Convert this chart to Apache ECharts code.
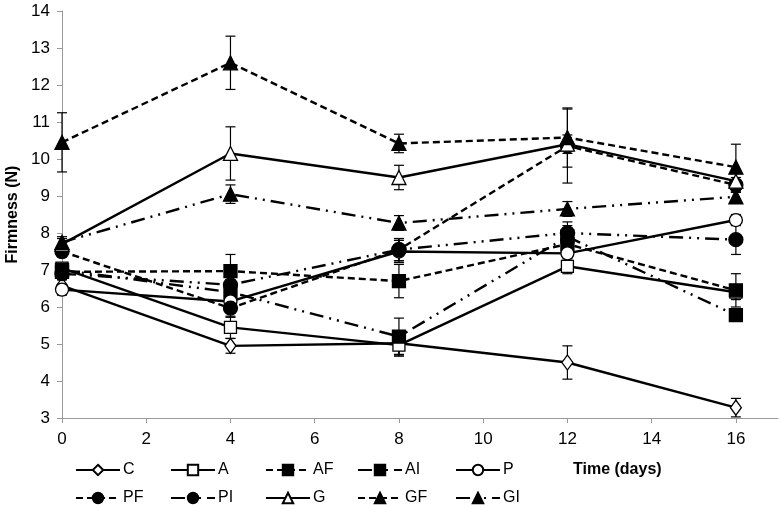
<!DOCTYPE html>
<html>
<head>
<meta charset="utf-8">
<script src="https://cdn.jsdelivr.net/npm/echarts@6/dist/echarts.min.js"></script>
<style>html,body{margin:0;padding:0;background:#fff}#c{width:780px;height:505px}</style>
</head>
<body>
<div id="c"></div>
<script>
const days = [0, 4, 8, 12, 16];
const xTicks = [0, 2, 4, 6, 8, 10, 12, 14, 16];
const seriesNames = ['C', 'A', 'AF', 'AI', 'P', 'PF', 'PI', 'G', 'GF', 'GI'];

const C  = [6.58, 4.95, 5.02, 4.50, 3.28];
const A  = [7.05, 5.45, 4.97, 7.10, 6.40];
const AF = [6.95, 6.97, 6.70, 7.70, 6.45];
const AI = [7.00, 6.40, 5.20, 7.90, 5.78];
const P  = [6.47, 6.15, 7.50, 7.45, 8.35];
const PF = [7.50, 5.97, 7.55, 10.35, 9.30];
const PI = [6.90, 6.60, 7.55, 8.00, 7.82];
const G  = [7.70, 10.15, 9.50, 10.40, 9.40];
const GF = [10.45, 12.60, 10.42, 10.58, 9.78];
const GI = [7.75, 9.05, 8.27, 8.65, 8.98];

const C_err  = [0.15, 0.20, 0.30, 0.45, 0.25];
const A_err  = [0.15, 0.30, 0.30, 0.20, 0.20];
const AF_err = [0.15, 0.45, 0.45, 0.30, 0.45];
const AI_err = [0.15, 0.30, 0.50, 0.30, 0.15];
const P_err  = [0.15, 0.20, 0.30, 0.30, 0.15];
const PF_err = [0.15, 0.25, 0.30, 1.00, 0.20];
const PI_err = [0.15, 0.20, 0.30, 0.30, 0.40];
const G_err  = [0.15, 0.72, 0.33, 0.25, 0.30];
const GF_err = [0.80, 0.72, 0.25, 0.80, 0.62];
const GI_err = [0.15, 0.25, 0.20, 0.20, 0.15];

const values = [C, A, AF, AI, P, PF, PI, G, GF, GI];
const errors = [C_err, A_err, AF_err, AI_err, P_err, PF_err, PI_err, G_err, GF_err, GI_err];

const DASH = [7, 4];
const DASHDOT = [14, 6, 2, 6, 2, 6];
const styles = [
  {symbol: 'diamond', size: [11, 15], fill: '#fff', dash: 'solid'},
  {symbol: 'rect', size: 12, fill: '#fff', dash: 'solid'},
  {symbol: 'rect', size: 13, fill: '#000', dash: DASH},
  {symbol: 'rect', size: 13, fill: '#000', dash: DASHDOT},
  {symbol: 'circle', size: 13, fill: '#fff', dash: 'solid'},
  {symbol: 'circle', size: 14, fill: '#000', dash: DASH},
  {symbol: 'circle', size: 14, fill: '#000', dash: DASHDOT},
  {symbol: 'triangle', size: 14, fill: '#fff', dash: 'solid'},
  {symbol: 'triangle', size: 14, fill: '#000', dash: DASH},
  {symbol: 'triangle', size: 14, fill: '#000', dash: DASHDOT}
];

const FONT = 'Liberation Sans, Arial, sans-serif';

const series = [];
const errData = [];
values.forEach((vals, i) => {
  vals.forEach((v, j) => {
    errData.push([days[j], v - errors[i][j], v + errors[i][j]]);
  });
});
series.push({
  type: 'custom',
  name: 'err',
  silent: true,
  z: 1,
  encode: {x: 0, y: [1, 2]},
  data: errData,
  renderItem: function (params, api) {
    const x = api.value(0);
    const lo = api.coord([x, api.value(1)]);
    const hi = api.coord([x, api.value(2)]);
    const w = 5;
    const st = {stroke: '#000', lineWidth: 1.2};
    return {
      type: 'group',
      children: [
        {type: 'line', shape: {x1: lo[0], y1: lo[1], x2: hi[0], y2: hi[1]}, style: st},
        {type: 'line', shape: {x1: lo[0] - w, y1: lo[1], x2: lo[0] + w, y2: lo[1]}, style: st},
        {type: 'line', shape: {x1: hi[0] - w, y1: hi[1], x2: hi[0] + w, y2: hi[1]}, style: st}
      ]
    };
  }
});

seriesNames.forEach((name, i) => {
  const s = styles[i];
  series.push({
    type: 'line',
    name: name,
    z: 3,
    data: days.map((d, j) => [d, values[i][j]]),
    symbol: s.symbol,
    symbolSize: s.size,
    showAllSymbol: true,
    lineStyle: {color: '#000', width: 2.4, type: s.dash},
    itemStyle: {color: s.fill, borderColor: '#000', borderWidth: 1.3}
  });
});

const legendLeft = [75, 170, 265, 357, 455];
const legends = seriesNames.map((name, i) => ({
  data: [name],
  left: legendLeft[i % 5],
  top: i < 5 ? 462 : 490,
  padding: 0,
  itemWidth: 44,
  itemHeight: 13,
  itemGap: 0,
  textStyle: {fontFamily: FONT, fontSize: 16, color: '#000', padding: [0, 0, 0, -2]}
}));

const chart = echarts.init(document.getElementById('c'), null, {renderer: 'canvas'});
chart.setOption({
  animation: false,
  backgroundColor: '#fff',
  grid: {left: 62, right: 2, top: 11, bottom: 87, containLabel: false, outerBoundsMode: 'none'},
  legend: legends,
  xAxis: {
    type: 'value', min: 0, max: 17,
    axisLine: {lineStyle: {color: '#999', width: 1}},
    axisTick: {show: true, length: 5, lineStyle: {color: '#999'}, customValues: xTicks},
    axisLabel: {color: '#000', fontSize: 17, fontFamily: FONT, margin: 13, customValues: xTicks},
    splitLine: {show: false}
  },
  yAxis: {
    type: 'value', min: 3, max: 14, interval: 1,
    name: 'Firmness (N)', nameLocation: 'middle', nameGap: 40,
    nameTextStyle: {fontFamily: FONT, fontSize: 16, fontWeight: 'bold', color: '#000'},
    axisLine: {show: true, lineStyle: {color: '#999', width: 1}},
    axisTick: {show: true, length: 5, lineStyle: {color: '#999'}},
    axisLabel: {color: '#000', fontSize: 17, fontFamily: FONT, margin: 12},
    splitLine: {show: false}
  },
  graphic: [{
    type: 'text', left: 573, top: 462,
    style: {text: 'Time (days)', font: 'bold 16px ' + FONT, fill: '#000'}
  }],
  series: series
});
</script>
</body>
</html>
